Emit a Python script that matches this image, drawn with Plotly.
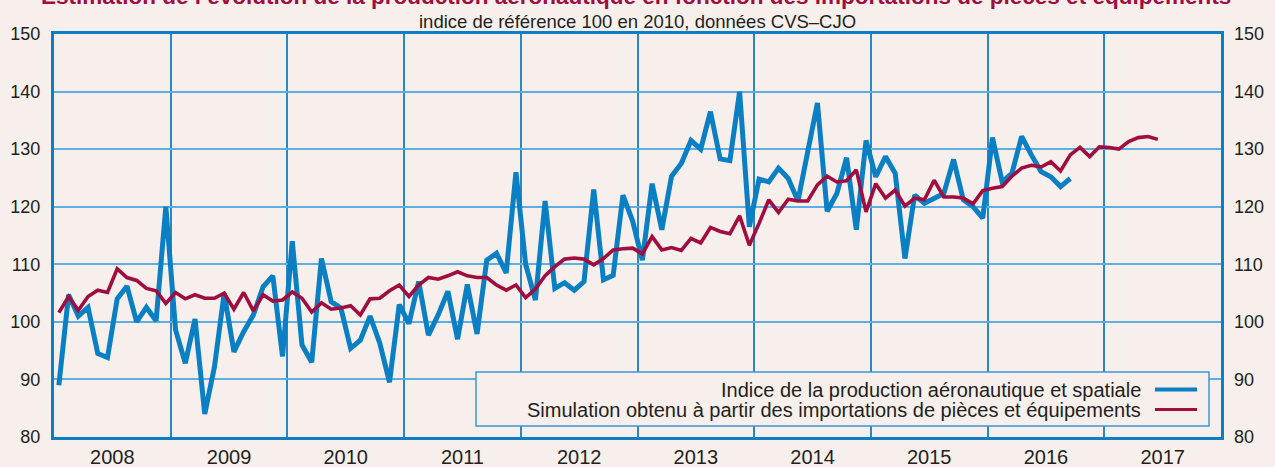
import plotly.graph_objects as go

# ---- data (monthly, starting January 2008) ----
start_year = 2008
years = list(range(2008, 2018))
year_labels = [str(y) for y in years]

production = [
    89.0, 104.7, 101.0, 102.5, 94.5, 93.8, 104.0, 106.2, 100.0, 102.5, 100.2, 120.0,
    98.6, 92.8, 100.5, 84.0, 92.2, 105.0, 94.8, 98.3, 101.2, 106.1, 108.0, 94.0,
    114.0, 96.0, 93.0, 111.0, 103.5, 102.4, 95.4, 96.8, 101.0, 96.3, 89.5, 103.0,
    99.7, 107.0, 97.7, 101.2, 105.3, 97.0, 106.5, 97.9, 110.7, 111.9, 108.5, 126.0,
    110.0, 103.8, 121.0, 105.8, 106.8, 105.5, 107.0, 123.0, 107.3, 108.1, 122.0, 117.5,
    110.7, 124.0, 116.0, 125.3, 127.5, 131.5, 130.0, 136.5, 128.3, 128.0, 140.0, 116.5,
    124.8, 124.3, 126.7, 124.9, 121.0, 129.0, 138.0, 119.2, 122.3, 128.5, 116.0, 131.5,
    125.2, 128.7, 125.8, 111.0, 122.0, 120.6, 121.5, 122.3, 128.2, 121.2, 120.0, 118.0,
    132.0, 124.3, 125.8, 132.2, 129.0, 126.1, 125.2, 123.5, 124.9,
]

simulation = [
    101.6, 104.4, 102.0, 104.4, 105.5, 105.1, 109.2, 107.7, 107.2, 105.8, 105.4, 103.2,
    105.1, 104.0, 104.7, 104.1, 104.1, 105.0, 102.2, 105.1, 101.9, 104.7, 103.6, 103.8,
    105.2, 104.1, 101.7, 103.3, 102.2, 102.4, 102.8, 101.2, 104.0, 104.1, 105.4, 106.4,
    104.4, 106.4, 107.7, 107.4, 108.0, 108.7, 108.0, 107.7, 107.7, 106.4, 105.5, 106.4,
    104.2, 105.7, 108.0, 109.6, 110.9, 111.1, 110.9, 109.9, 111.0, 112.5, 112.7, 112.8,
    111.8, 114.8, 112.5, 112.9, 112.4, 114.5, 113.7, 116.4, 115.7, 115.3, 118.4, 113.3,
    117.1, 121.2, 119.0, 121.3, 121.0, 121.0, 123.8, 125.3, 124.3, 124.5, 126.4, 119.1,
    124.0, 121.5, 122.9, 120.1, 121.5, 121.2, 124.6, 121.7, 121.7, 121.5, 120.5, 122.8,
    123.2, 123.5, 125.3, 126.7, 127.2, 126.9, 127.8, 126.2, 129.0, 130.3, 128.7, 130.4,
    130.3, 130.0, 131.3, 132.0, 132.2, 131.7,
]

name_prod = "Indice de la production aéronautique et spatiale"
name_sim = "Simulation obtenu à partir des importations de pièces et équipements"
title_text = "Estimation de l’évolution de la production aéronautique en fonction des importations de pièces et équipements"
subtitle_text = "indice de référence 100 en 2010, données CVS–CJO"

# ---- styling ----
BG = "#f6efec"
BLUE = "#0a7fc4"
RED = "#a00d3e"
GRID_H = "#5eaee0"
GRID_V = "#2a86c6"
TXT = "#231f20"
FONT = "Liberation Sans, Arial, Helvetica, sans-serif"

def month_x(n):
    return [start_year + (i + 0.5) / 12 for i in range(n)]

fig = go.Figure()
fig.add_trace(go.Scatter(x=month_x(len(production)), y=production, mode="lines",
                         line=dict(color=BLUE, width=5), name=name_prod,
                         showlegend=False))
fig.add_trace(go.Scatter(x=month_x(len(simulation)), y=simulation, mode="lines",
                         line=dict(color=RED, width=3.6), name=name_sim,
                         showlegend=False, yaxis="y2"))

W, H = 1275, 467
L, R, T, B = 54, 54, 34, 30
pw, ph = W - L - R, H - T - B

def px_x(x):
    return (x - L) / pw

def px_y(y):
    return (H - B - y) / ph

fig.update_layout(
    width=W, height=H,
    margin=dict(l=L, r=R, t=T, b=B, autoexpand=False),
    paper_bgcolor=BG, plot_bgcolor=BG,
    font=dict(family=FONT, size=18, color=TXT),
    xaxis=dict(
        range=[years[0], years[-1] + 1], automargin=False,
        tickvals=[y + 0.5 for y in years], ticktext=year_labels,
        tickfont=dict(size=20),
        ticks="", showgrid=False, zeroline=False,
        showline=True, linecolor=BLUE, linewidth=3, mirror=True,
        ticklabelstandoff=0,
        minor=dict(tick0=years[0], dtick=1, showgrid=True,
                   gridcolor=GRID_V, gridwidth=1.5, ticks=""),
    ),
    yaxis=dict(
        range=[80, 150], dtick=10, ticks="", automargin=False,
        showgrid=True, gridcolor=GRID_H, gridwidth=1.5, zeroline=False,
        showline=True, linecolor=BLUE, linewidth=3, mirror=True,
        ticklabelstandoff=7,
    ),
    yaxis2=dict(
        range=[80, 150], dtick=10, ticks="", overlaying="y", side="right",
        showgrid=False, zeroline=False, showline=False, automargin=False,
        ticklabelstandoff=12,
    ),
    showlegend=False,
)

# title (partly cut off at the top, as in the reference)
fig.add_annotation(text=title_text, xref="paper", yref="paper",
                   x=px_x(636), y=px_y(-3.5), xanchor="center", yanchor="middle",
                   showarrow=False,
                   font=dict(family=FONT, size=22.5, color=RED, weight="bold"))
fig.add_annotation(text=subtitle_text, xref="paper", yref="paper",
                   x=px_x(637), y=px_y(21), xanchor="center", yanchor="middle",
                   showarrow=False, font=dict(family=FONT, size=18.5, color=TXT))

# custom legend (text on the left, line sample on the right)
fig.add_shape(type="rect", xref="paper", yref="paper",
              x0=px_x(476), x1=px_x(1209), y0=px_y(426), y1=px_y(372),
              line=dict(color="#3c98d4", width=1.5), fillcolor=BG, layer="above")
for label, color, width, yc in [(name_prod, BLUE, 4, 389.5), (name_sim, RED, 3, 409.5)]:
    fig.add_shape(type="line", xref="paper", yref="paper",
                  x0=px_x(1155), x1=px_x(1197), y0=px_y(yc), y1=px_y(yc),
                  line=dict(color=color, width=width), layer="above")
    fig.add_annotation(text=label, xref="paper", yref="paper",
                       x=px_x(1143), y=px_y(yc), xanchor="right", yanchor="middle",
                       showarrow=False, font=dict(family=FONT, size=20, color=TXT))

fig.write_html(
    "out.html",
    config={"displayModeBar": False},
    post_script="document.body.style.margin='0';document.body.style.overflow='hidden';",
)
